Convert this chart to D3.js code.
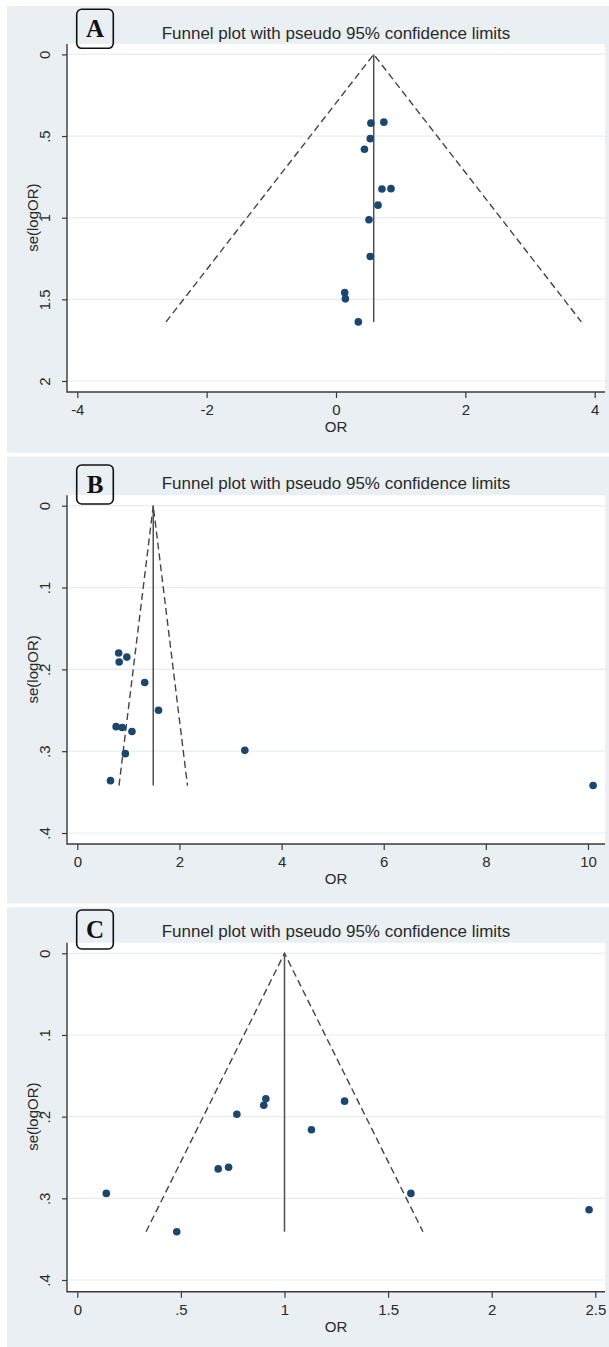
<!DOCTYPE html>
<html>
<head>
<meta charset="utf-8">
<script src="https://cdn.jsdelivr.net/npm/d3@7/dist/d3.min.js"></script>
<style>
	body { margin: 0; background: #fff; }
	svg text { font-family: "Liberation Sans", Arial, sans-serif; fill: #2a2a2a; }
	.lettre { font-family: "Liberation Serif", "Times New Roman", serif; font-weight: bold; fill: #111; }
</style>
</head>
<body>
<svg id="figure" width="609" height="1347"></svg>
<script>
"use strict";

/*
	DONNÉES	****	****	****	****	*/

// [OR, se(logOR)] pour chaque étude
const etudesA = [[0.54, 0.421], [0.74, 0.415], [0.53, 0.516], [0.44, 0.581], [0.71, 0.824], [0.85, 0.822],
	[0.65, 0.923], [0.51, 1.013], [0.53, 1.238], [0.135, 1.459], [0.145, 1.497], [0.345, 1.638]];
const etudesB = [[0.81, 0.180], [0.97, 0.185], [0.82, 0.191], [1.32, 0.216], [1.59, 0.250], [0.76, 0.270],
	[0.88, 0.271], [1.07, 0.276], [0.94, 0.303], [0.65, 0.336], [3.28, 0.299], [10.1, 0.342]];
const etudesC = [[0.14, 0.294], [0.48, 0.341], [0.68, 0.264], [0.73, 0.262], [0.77, 0.197], [0.90, 0.186],
	[0.91, 0.178], [1.13, 0.216], [1.29, 0.181], [1.61, 0.294], [2.47, 0.314]];

// effet combiné (sommet de l'entonnoir)
const centreA = 0.583;
const centreB = 1.487;
const centreC = 1.0;

const ticksXA = [-4, -2, 0, 2, 4];
const ticksYA = [0, 0.5, 1, 1.5, 2];
const ticksXB = [0, 2, 4, 6, 8, 10];
const ticksYB = [0, 0.1, 0.2, 0.3, 0.4];
const ticksXC = [0, 0.5, 1, 1.5, 2, 2.5];
const ticksYC = [0, 0.1, 0.2, 0.3, 0.4];

const titre = "Funnel plot with pseudo 95% confidence limits";
const titreX = "OR";
const titreY = "se(logOR)";

/*
	MISE EN PAGE	****	****	****	****	****	*/

const panneaux = [
	{ lettre: "A", etudes: etudesA, centre: centreA, tx: ticksXA, ty: ticksYA,
		haut: 6, bas: 452.7, x0: 77.3, x1: 594.7, y0: 54.4, y1: 381, axe: 392, titre: 39, boite: 9.3 },
	{ lettre: "B", etudes: etudesB, centre: centreB, tx: ticksXB, ty: ticksYB,
		haut: 456.7, bas: 903.3, x0: 77.3, x1: 588, y0: 505.7, y1: 833, axe: 844, titre: 489, boite: 465 },
	{ lettre: "C", etudes: etudesC, centre: centreC, tx: ticksXC, ty: ticksYC,
		haut: 907.3, bas: 1350, x0: 77.3, x1: 595.3, y0: 953.3, y1: 1280, axe: 1291.7, titre: 937.3, boite: 910 }
];

const gauche = 67, droite = 605;
const couleurAxe = "#3a3a3a";

// format Stata : ".5", "-4"
const formater = d => {
	let s = d3.format("~g")(d).replace("\u2212", "-");
	return s.replace(/^0\./, ".").replace(/^-0\./, "-.");
};

const svg = d3.select("#figure");

panneaux.forEach(p => {
	const g = svg.append("g").attr("class", "panneau-" + p.lettre);

	const x = d3.scaleLinear().domain(d3.extent(p.tx)).range([p.x0, p.x1]);
	const y = d3.scaleLinear().domain(d3.extent(p.ty)).range([p.y0, p.y1]);

// fonds
	g.append("rect")
	.attr("x", 7)
	.attr("y", p.haut)
	.attr("width", 609 - 7)
	.attr("height", p.bas - p.haut)
	.attr("fill", "#e9eff2");

	const hautTrace = p.y0 - 10.5;
	g.append("rect")
	.attr("x", gauche)
	.attr("y", hautTrace)
	.attr("width", droite - gauche)
	.attr("height", p.axe - hautTrace)
	.attr("fill", "#fff");

// grille
	g.append("g")
	.selectAll("line")
	.data(p.ty)
	.enter()
		.append("line")
		.attr("x1", gauche)
		.attr("x2", droite)
		.attr("y1", d => y(d))
		.attr("y2", d => y(d))
		.attr("stroke", "#e7edf0")
		.attr("stroke-width", 1.2);

// axes
	const axeX = g.append("g")
	.attr("transform", "translate(0," + p.axe + ")")
	.call(d3.axisBottom(x)
		.tickValues(p.tx)
		.tickSize(6)
		.tickSizeOuter(0)
		.tickPadding(6.5)
		.tickFormat(formater));
	axeX.select(".domain").remove();
	axeX.selectAll("line").attr("stroke", couleurAxe).attr("stroke-width", 1.2);
	axeX.selectAll("text").attr("font-size", 15).attr("font-family", null).attr("fill", "#2a2a2a");

	const axeY = g.append("g")
	.attr("transform", "translate(" + gauche + ",0)")
	.call(d3.axisLeft(y)
		.tickValues(p.ty)
		.tickSize(5)
		.tickSizeOuter(0)
		.tickFormat(formater));
	axeY.select(".domain").remove();
	axeY.selectAll("line").attr("stroke", couleurAxe).attr("stroke-width", 1.2);
	axeY.selectAll("text")
	.attr("x", null)
	.attr("dy", null)
	.attr("text-anchor", "middle")
	.attr("transform", "translate(-17,0) rotate(-90)")
	.attr("font-size", 15)
	.attr("font-family", null)
	.attr("fill", "#2a2a2a");

	g.append("path")
	.attr("d", "M" + gauche + "," + hautTrace + "V" + p.axe + "H" + droite)
	.attr("fill", "none")
	.attr("stroke", couleurAxe)
	.attr("stroke-width", 1.4);

// titres
	g.append("text")
	.attr("x", 336)
	.attr("y", p.titre)
	.attr("text-anchor", "middle")
	.attr("font-size", 17)
	.text(titre);

	g.append("text")
	.attr("x", 336)
	.attr("y", p.axe + 40)
	.attr("text-anchor", "middle")
	.attr("font-size", 15)
	.text(titreX);

	g.append("text")
	.attr("transform", "translate(38," + (p.y0 + p.y1) / 2 + ") rotate(-90)")
	.attr("text-anchor", "middle")
	.attr("font-size", 15)
	.text(titreY);

// entonnoir (IC 95 % : centre ± 1,96 se)
	const seMax = d3.max(p.etudes, d => d[1]);
	const ligne = d3.line().x(d => x(d[0])).y(d => y(d[1]));

	g.append("path")
	.attr("d", ligne([[p.centre - 1.96 * seMax, seMax], [p.centre, 0], [p.centre + 1.96 * seMax, seMax]]))
	.attr("fill", "none")
	.attr("stroke", "#444")
	.attr("stroke-width", 1.4)
	.attr("stroke-dasharray", "7,4");

	g.append("path")
	.attr("d", ligne([[p.centre, 0], [p.centre, seMax]]))
	.attr("stroke", "#505050")
	.attr("stroke-width", 1.5);

// études
	g.append("g")
	.selectAll("circle")
	.data(p.etudes)
	.enter()
		.append("circle")
		.attr("cx", d => x(d[0]))
		.attr("cy", d => y(d[1]))
		.attr("r", 3.8)
		.attr("fill", "#1a476f");

// lettre encadrée
	g.append("rect")
	.attr("x", 76.7)
	.attr("y", p.boite)
	.attr("width", 36.6)
	.attr("height", 39)
	.attr("rx", 5)
	.attr("fill", "none")
	.attr("stroke", "#111")
	.attr("stroke-width", 1.6);

	g.append("text")
	.attr("class", "lettre")
	.attr("x", 95)
	.attr("y", p.boite + 27.5)
	.attr("text-anchor", "middle")
	.attr("font-size", 25)
	.text(p.lettre);
});
</script>
</body>
</html>
